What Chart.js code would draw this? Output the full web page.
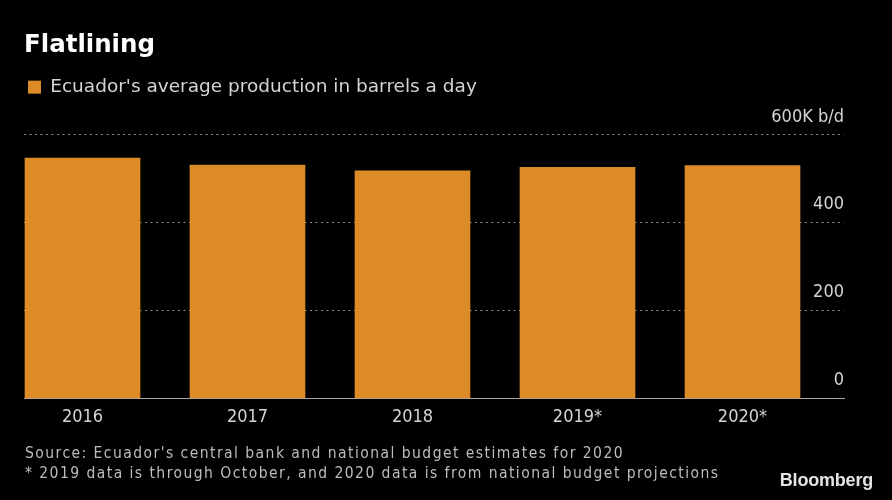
<!DOCTYPE html>
<html>
<head>
<meta charset="utf-8">
<script src="https://cdn.jsdelivr.net/npm/chart.js@4.4.1/dist/chart.umd.min.js"></script>
<style>
  html, body { margin: 0; padding: 0; background: #000; }
  #wrap { position: relative; width: 892px; height: 500px; background: #000; overflow: hidden; }
  #chartBox { position: absolute; left: 0; top: 0; width: 892px; height: 500px; }
  .foot { position: absolute; left: 25px; color: #bdbdbd; font-family: "DejaVu Sans Condensed", "DejaVu Sans", sans-serif; font-size: 15.5px; line-height: 20px; letter-spacing: 1.45px; white-space: nowrap; }
  #brand { position: absolute; right: 19px; top: 469px; color: #e4e4e4; font-family: "Liberation Sans", Arial, sans-serif; font-weight: bold; font-size: 18px; line-height: 22px; letter-spacing: -0.2px; }
</style>
</head>
<body>
<div id="wrap">
  <div id="chartBox"><canvas id="c"></canvas></div>
  <div class="foot" id="src" style="top:443px;">Source: Ecuador's central bank and national budget estimates for 2020</div>
  <div class="foot" id="note" style="top:463px;">* 2019 data is through October, and 2020 data is from national budget projections</div>
  <div id="brand">Bloomberg</div>
</div>
<script>
const chartTitle = "Flatlining";
const seriesName = "Ecuador's average production in barrels a day";
const categories = ["2016", "2017", "2018", "2019*", "2020*"];
const production = [547, 531, 518, 526, 530];
const yTicks = [0, 200, 400, 600];
const yTickLabels = ["0", "200", "400", "600K b/d"];

const barColor = "#dc8b26";
const labelFont = "'DejaVu Sans Condensed', 'DejaVu Sans', sans-serif";

const legendMargin = {
  id: "legendMargin",
  beforeInit(chart) {
    const origFit = chart.legend.fit;
    chart.legend.fit = function () {
      origFit.bind(chart.legend)();
      this.height += 28.5;
    };
  }
};

new Chart(document.getElementById("c"), {
  type: "bar",
  data: {
    datasets: [{
      label: seriesName,
      data: production.map((v, i) => ({ x: i, y: v })),
      backgroundColor: barColor,
      borderWidth: 0,
      barThickness: 115
    }]
  },
  options: {
    responsive: true,
    maintainAspectRatio: false,
    animation: false,
    layout: { padding: { left: 24, right: 48, top: 0, bottom: 64 } },
    plugins: {
      title: {
        display: true,
        text: chartTitle,
        align: "start",
        color: "#ffffff",
        font: { family: "'DejaVu Sans', sans-serif", size: 24.5, weight: "bold", lineHeight: 1.2 },
        padding: { top: 31, bottom: 13.5 }
      },
      legend: {
        display: true,
        position: "top",
        align: "start",
        labels: {
          color: "#d4d4d4",
          boxWidth: 13,
          boxHeight: 13,
          padding: 4,
          font: { family: "'DejaVu Sans', sans-serif", size: 18.5 }
        }
      },
      tooltip: { enabled: false }
    },
    scales: {
      x: {
        type: "linear",
        offset: false,
        min: -0.3545,
        max: 4.6152,
        afterBuildTicks: (scale) => { scale.ticks = categories.map((c, i) => ({ value: i })); },
        ticks: {
          color: "#d4d4d4",
          padding: 8,
          maxRotation: 0,
          autoSkip: false,
          font: { family: labelFont, size: 18 },
          callback: (value) => categories[value] !== undefined ? categories[value] : ""
        },
        grid: { display: false, drawTicks: false, offset: false },
        border: { display: true, color: "#a8a8a8", width: 1 }
      },
      y: {
        position: "right",
        min: 0,
        max: 600,
        afterBuildTicks: (scale) => { scale.ticks = yTicks.map(v => ({ value: v })); },
        afterFit: (scale) => { scale.width = 0; },
        ticks: {
          color: "#d4d4d4",
          mirror: true,
          crossAlign: "near",
          labelOffset: -18,
          padding: 0,
          font: { family: labelFont, size: 18 },
          callback: (value) => {
            const k = yTicks.indexOf(value);
            return k >= 0 ? yTickLabels[k] : "";
          }
        },
        grid: {
          drawTicks: false,
          lineWidth: 1,
          color: (ctx) => (ctx.tick && ctx.tick.value === 0) ? "rgba(0,0,0,0)" : "#8c8c8c"
        },
        border: { display: false, dash: [2, 3.5] }
      }
    }
  },
  plugins: [legendMargin]
});
</script>
</body>
</html>
